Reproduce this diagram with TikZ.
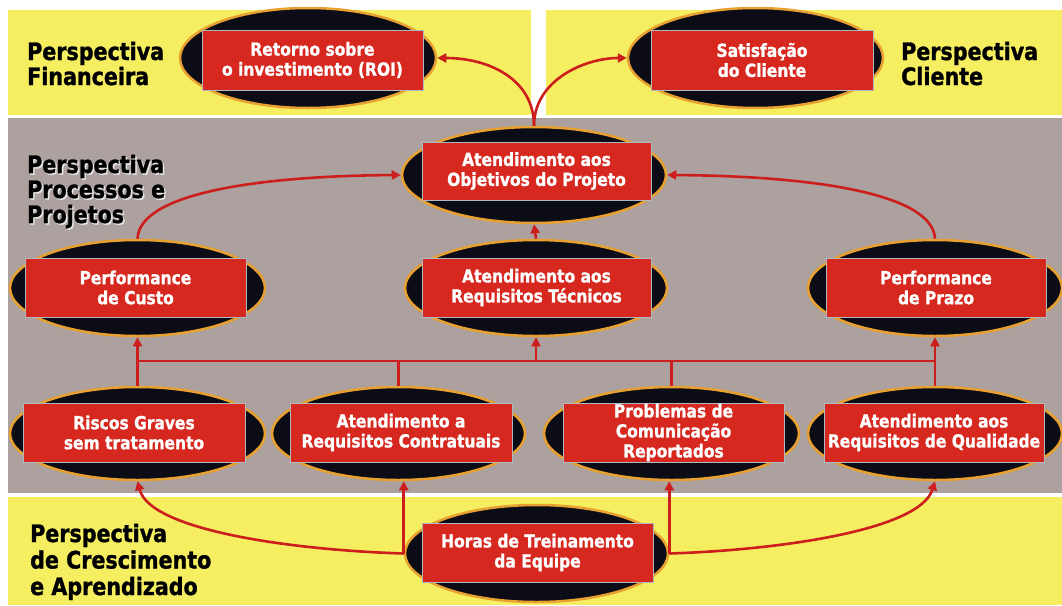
\documentclass[tikz,border=0pt]{standalone}
\usepackage{fontspec}
\setmainfont{DejaVu Sans}[BoldFont={DejaVu Sans Bold}, BoldFeatures={FakeBold=1.2}, FakeStretch=0.86]
\usetikzlibrary{shapes.geometric,arrows.meta}

\definecolor{panelyellow}{RGB}{244,238,96}
\definecolor{panelgray}{RGB}{172,161,158}
\definecolor{cardred}{RGB}{214,40,30}
\definecolor{ringorange}{RGB}{232,160,48}
\definecolor{ovalblack}{RGB}{12,12,22}
\definecolor{linkred}{RGB}{204,30,28}
\definecolor{cardedge}{RGB}{175,185,195}

\begin{document}
\begin{tikzpicture}[x=1pt,y=-1pt,
  oval/.style={ellipse, fill=ovalblack, draw=ringorange, line width=2.5pt, inner sep=0pt},
  card/.style={rectangle, fill=cardred, draw=cardedge, line width=0.8pt, inner sep=0pt,
    text=white, align=center, font=\bfseries\fontsize{18}{20}\selectfont},
  persp/.style={anchor=base west, inner sep=0pt, align=left,
    font=\bfseries\fontsize{24}{25}\selectfont},
  link/.style={draw=linkred, line width=2.6pt},
  tip/.style={-{Triangle[length=9pt,width=9pt]}},
]
\useasboundingbox (0,0) rectangle (1062,605);
\fill[white] (0,0) rectangle (1062,605);

% perspective bands
\fill[panelyellow] (8,10) rectangle (531,115);
\fill[panelyellow] (546,10) rectangle (1062,115);
\fill[panelgray] (8,118) rectangle (1062,493);
\fill[panelyellow] (8,497) rectangle (1062,605);

% band titles (anchored at the baseline of their last line)
\node[persp] (finLbl) at (27,85) {Perspectiva\\Financeira};
\node[persp] (cliLbl) at (901,85) {Perspectiva\\Cliente};
\node[persp, text=white!80!gray] (procShade) at (28.5,224.5) {Perspectiva\\Processos e\\Projetos};
\node[persp] (procLbl) at (27,223) {Perspectiva\\Processos e\\Projetos};
\node[persp, font=\bfseries\fontsize{24}{26.5}\selectfont] (crescLbl) at (30,595) {Perspectiva\\de Crescimento\\e Aprendizado};

% financial and customer goals
\node[oval, minimum width=256pt, minimum height=100pt] (roiOval) at (308,58) {};
\node[card, minimum width=221pt, minimum height=60pt] (roi) at (312.5,60) {Retorno sobre\\o investimento (ROI)};
\node[oval, minimum width=255pt, minimum height=100pt] (satOval) at (755.5,58) {};
\node[card, minimum width=222pt, minimum height=60pt] (sat) at (762,60) {Satisfação\\do Cliente};

% process goals
\node[oval, minimum width=264pt, minimum height=96pt] (objOval) at (534,175) {};
\node[card, minimum width=229pt, minimum height=58pt] (obj) at (536.5,171) {Atendimento aos\\Objetivos do Projeto};

\node[oval, minimum width=255pt, minimum height=96pt] (custoOval) at (137.5,288) {};
\node[card, minimum width=221pt, minimum height=59pt] (custo) at (135.5,287.5) {Performance\\de Custo};
\node[oval, minimum width=262pt, minimum height=96pt] (tecOval) at (536,288) {};
\node[card, minimum width=229pt, minimum height=59pt] (tec) at (536.5,287.5) {Atendimento aos\\Requisitos Técnicos};
\node[oval, minimum width=254pt, minimum height=96pt] (prazoOval) at (935,288) {};
\node[card, minimum width=220pt, minimum height=59pt] (prazo) at (936,287.5) {Performance\\de Prazo};

\node[oval, minimum width=255pt, minimum height=93pt] (riscosOval) at (137.5,433.5) {};
\node[card, minimum width=222pt, minimum height=59pt] (riscos) at (134,432.5) {Riscos Graves\\sem tratamento};
\node[oval, minimum width=253pt, minimum height=93pt] (contrOval) at (398.5,433.5) {};
\node[card, minimum width=222pt, minimum height=59pt] (contr) at (401,432.5) {Atendimento a\\Requisitos Contratuais};
\node[oval, minimum width=255pt, minimum height=93pt] (probOval) at (671.5,433.5) {};
\node[card, minimum width=221pt, minimum height=59pt] (prob) at (673.5,432.5) {Problemas de\\Comunicação\\Reportados};
\node[oval, minimum width=254pt, minimum height=93pt] (qualOval) at (935,433.5) {};
\node[card, minimum width=220pt, minimum height=59pt] (qual) at (934,432.5) {Atendimento aos\\Requisitos de Qualidade};

% learning and growth
\node[oval, minimum width=263pt, minimum height=97pt] (horasOval) at (536.5,553.5) {};
\node[card, minimum width=231pt, minimum height=59pt] (horas) at (537.5,552.5) {Horas de Treinamento\\da Equipe};

% cause-and-effect links
\coordinate (busW) at (137.5,361);
\coordinate (busE) at (935,361);
\draw[link] (busW) -- (busE);
\draw[link,tip] (riscosOval.north) -- (custoOval.south);
\draw[link,tip] (qualOval.north) -- (prazoOval.south);
\draw[link] (contrOval.north) -- (contrOval.north |- busW);
\draw[link] (probOval.north) -- (probOval.north |- busW);
\draw[link,tip] (tecOval.south |- busW) -- (tecOval.south);
\draw[link,tip] (tecOval.north) -- (objOval.south);

\draw[link,tip] (custoOval.north) .. controls (139,195) and (250,176) .. (objOval.west);
\draw[link,tip] (prazoOval.north) .. controls (933,195) and (820,176) .. (objOval.east);
\draw[link,tip] (objOval.north) .. controls (534,80) and (490,58) .. (roiOval.east);
\draw[link,tip] (objOval.north) .. controls (534,80) and (585,58) .. (satOval.west);

\draw[link,tip] (horasOval.west) -- (horasOval.west |- contrOval.south);
\draw[link,tip] (horasOval.west) .. controls (290,550) and (150,530) .. (riscosOval.south);
\draw[link,tip] (horasOval.east) -- (horasOval.east |- probOval.south);
\draw[link,tip] (horasOval.east) .. controls (780,550) and (920,530) .. (qualOval.south);
\end{tikzpicture}
\end{document}
